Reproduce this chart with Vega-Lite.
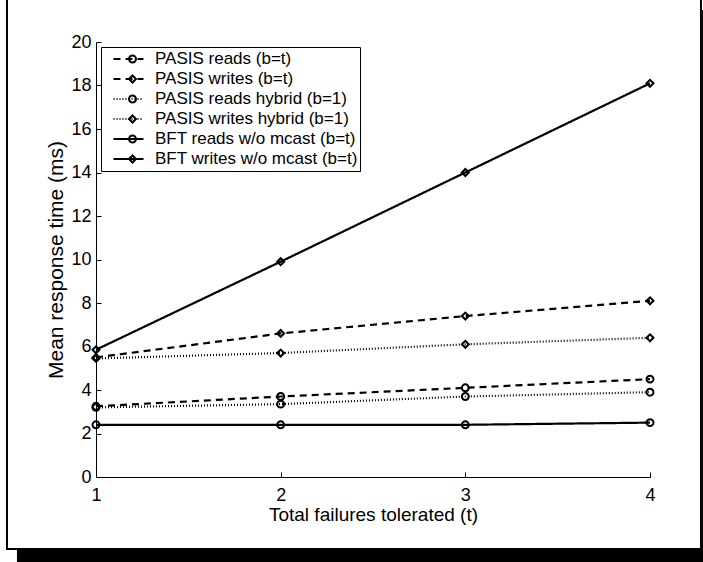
{
  "$schema": "https://vega.github.io/schema/vega-lite/v6.json",
  "width": 554,
  "height": 435,
  "autosize": {"type": "none"},
  "padding": {"left": 96, "top": 42, "right": 53, "bottom": 85},
  "background": "white",
  "config": {"view": {"stroke": null}, "font": "Liberation Sans"},
  "data": {
    "values": [
      {"t": 1, "series": "PASIS reads (b=t)", "ms": 3.25},
      {"t": 2, "series": "PASIS reads (b=t)", "ms": 3.7},
      {"t": 3, "series": "PASIS reads (b=t)", "ms": 4.1},
      {"t": 4, "series": "PASIS reads (b=t)", "ms": 4.5},
      {"t": 1, "series": "PASIS writes (b=t)", "ms": 5.5},
      {"t": 2, "series": "PASIS writes (b=t)", "ms": 6.6},
      {"t": 3, "series": "PASIS writes (b=t)", "ms": 7.4},
      {"t": 4, "series": "PASIS writes (b=t)", "ms": 8.1},
      {"t": 1, "series": "PASIS reads hybrid (b=1)", "ms": 3.2},
      {"t": 2, "series": "PASIS reads hybrid (b=1)", "ms": 3.35},
      {"t": 3, "series": "PASIS reads hybrid (b=1)", "ms": 3.7},
      {"t": 4, "series": "PASIS reads hybrid (b=1)", "ms": 3.9},
      {"t": 1, "series": "PASIS writes hybrid (b=1)", "ms": 5.45},
      {"t": 2, "series": "PASIS writes hybrid (b=1)", "ms": 5.7},
      {"t": 3, "series": "PASIS writes hybrid (b=1)", "ms": 6.1},
      {"t": 4, "series": "PASIS writes hybrid (b=1)", "ms": 6.4},
      {"t": 1, "series": "BFT reads w/o mcast (b=t)", "ms": 2.4},
      {"t": 2, "series": "BFT reads w/o mcast (b=t)", "ms": 2.4},
      {"t": 3, "series": "BFT reads w/o mcast (b=t)", "ms": 2.4},
      {"t": 4, "series": "BFT reads w/o mcast (b=t)", "ms": 2.5},
      {"t": 1, "series": "BFT writes w/o mcast (b=t)", "ms": 5.85},
      {"t": 2, "series": "BFT writes w/o mcast (b=t)", "ms": 9.9},
      {"t": 3, "series": "BFT writes w/o mcast (b=t)", "ms": 14.0},
      {"t": 4, "series": "BFT writes w/o mcast (b=t)", "ms": 18.1}
    ]
  },
  "layer": [
    {
      "mark": {"type": "line", "color": "black", "strokeCap": "butt"},
      "encoding": {
        "x": {
          "field": "t", "type": "quantitative",
          "scale": {"domain": [1, 4], "nice": false, "zero": false},
          "axis": {
            "title": "Total failures tolerated (t)",
            "values": [1, 2, 3, 4], "format": "d", "grid": false,
            "tickSize": -5, "labelPadding": 14, "labelFlush": false,
            "domainColor": "black", "tickColor": "black",
            "labelColor": "black", "titleColor": "black",
            "labelFont": "Liberation Sans", "titleFont": "Liberation Sans",
            "labelFontSize": 18, "titleFontSize": 19, "titleFontWeight": "normal",
            "titlePadding": 1, "zindex": 1
          }
        },
        "y": {
          "field": "ms", "type": "quantitative",
          "scale": {"domain": [0, 20], "nice": false, "zero": false},
          "axis": {
            "title": "Mean response time (ms)",
            "values": [0,0.5,1,1.5,2,2.5,3,3.5,4,4.5,5,5.5,6,6.5,7,7.5,8,8.5,9,9.5,10,10.5,11,11.5,12,12.5,13,13.5,14,14.5,15,15.5,16,16.5,17,17.5,18,18.5,19,19.5,20],
            "labelExpr": "datum.value % 2 === 0 ? datum.label : ''",
            "labelOverlap": false, "grid": false,
            "tickSize": -5, "labelPadding": 10, "labelFlush": false,
            "domainColor": "black", "tickColor": "black",
            "labelColor": "black", "titleColor": "black",
            "labelFont": "Liberation Sans", "titleFont": "Liberation Sans",
            "labelFontSize": 18, "titleFontSize": 21, "titleFontWeight": "normal",
            "titlePadding": 4, "zindex": 1
          }
        },
        "strokeDash": {
          "field": "series", "type": "nominal",
          "scale": {
            "domain": ["PASIS reads (b=t)", "PASIS writes (b=t)", "PASIS reads hybrid (b=1)", "PASIS writes hybrid (b=1)", "BFT reads w/o mcast (b=t)", "BFT writes w/o mcast (b=t)"],
            "range": [[7, 5], [7, 5], [1, 2], [1, 2], [1, 0], [1, 0]]
          },
          "legend": {
            "title": null, "orient": "top-left", "offset": 5, "padding": 2,
            "symbolType": "stroke", "symbolSize": 900, "symbolStrokeWidth": 2.2,
            "symbolStrokeColor": "black", "symbolOpacity": 1, "symbolOffset": 9, "labelOffset": 10,
            "labelFont": "Liberation Sans", "labelFontSize": 17, "labelColor": "black",
            "labelLimit": 0,
            "clipHeight": 20, "rowPadding": 0,
            "strokeColor": "black", "zindex": 1
          }
        },
        "strokeWidth": {
          "field": "series", "type": "nominal",
          "scale": {
            "domain": ["PASIS reads (b=t)", "PASIS writes (b=t)", "PASIS reads hybrid (b=1)", "PASIS writes hybrid (b=1)", "BFT reads w/o mcast (b=t)", "BFT writes w/o mcast (b=t)"],
            "range": [2.2, 2.2, 1, 1, 2.2, 2.2]
          },
          "legend": null
        }
      }
    },
    {
      "mark": {"type": "point", "filled": false, "stroke": "black", "strokeWidth": 2, "size": 48, "opacity": 1},
      "encoding": {
        "x": {"field": "t", "type": "quantitative"},
        "y": {"field": "ms", "type": "quantitative"},
        "shape": {
          "field": "series", "type": "nominal",
          "scale": {
            "domain": ["PASIS reads (b=t)", "PASIS writes (b=t)", "PASIS reads hybrid (b=1)", "PASIS writes hybrid (b=1)", "BFT reads w/o mcast (b=t)", "BFT writes w/o mcast (b=t)"],
            "range": ["circle", "diamond", "circle", "diamond", "circle", "diamond"]
          },
          "legend": {
            "title": null, "orient": "none", "legendX": 5, "legendY": 5, "padding": 2,
            "symbolSize": 48, "symbolStrokeWidth": 2, "symbolStrokeColor": "black",
            "symbolFillColor": "transparent", "symbolOpacity": 1, "symbolOffset": 21,
            "labelExpr": "''", "labelFontSize": 17, "labelFont": "Liberation Sans",
            "clipHeight": 20, "rowPadding": 0, "zindex": 1
          }
        }
      }
    },
    {
      "data": {"values": [{}]},
      "mark": {"type": "rect", "fill": "black"},
      "encoding": {
        "x": {"datum": 0.572, "type": "quantitative"},
        "x2": {"datum": 4.341},
        "y": {"datum": -3.36, "type": "quantitative"},
        "y2": {"datum": -4.368}
      }
    },
    {
      "data": {"values": [{}]},
      "mark": {"type": "rect", "fill": "black"},
      "encoding": {
        "x": {"datum": 4.2816, "type": "quantitative"},
        "x2": {"datum": 4.341},
        "y": {"datum": 21.471, "type": "quantitative"},
        "y2": {"datum": -4.368}
      }
    },
    {
      "data": {"values": [{}]},
      "mark": {"type": "rect", "fill": null, "stroke": "black", "strokeWidth": 2},
      "encoding": {
        "x": {"datum": 0.518, "type": "quantitative"},
        "x2": {"datum": 4.276},
        "y": {"datum": 22.07, "type": "quantitative"},
        "y2": {"datum": -3.31}
      }
    }
  ]
}
